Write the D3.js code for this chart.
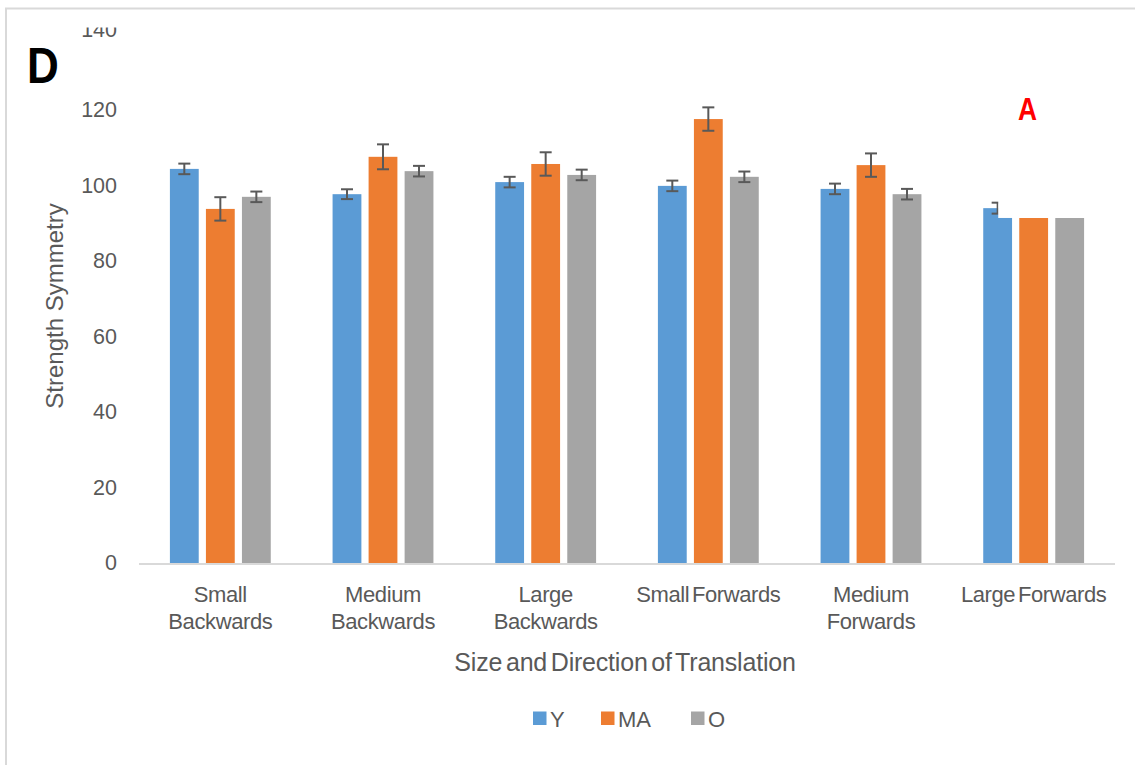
<!DOCTYPE html>
<html>
<head>
<meta charset="utf-8">
<script src="https://cdn.jsdelivr.net/npm/d3@7"></script>
<style>
  html, body { margin: 0; padding: 0; background: #fff; }
  svg { display: block; font-family: "Liberation Sans", Arial, sans-serif; }
</style>
</head>
<body>
<svg id="chart" width="1135" height="765"></svg>
<script>
// Category labels (line breaks with "\n")
const categories = [
  "Small\nBackwards",
  "Medium\nBackwards",
  "Large\nBackwards",
  "Small Forwards",
  "Medium\nForwards",
  "Large Forwards"
];
const seriesNames = ["Y", "MA", "O"];
const seriesColors = ["#5b9bd5", "#ed7d31", "#a5a5a5"];

// Mean strength symmetry per group
const valuesY  = [104.4, 97.7, 100.9, 99.9, 99.1, 94.0];
const valuesMA = [93.8, 107.6, 105.7, 117.6, 105.4, 91.4];
const valuesO  = [97.0, 103.8, 102.8, 102.3, 97.7, 91.4];

// Error bar half-widths (null = not shown)
const errY  = [1.4, 1.3, 1.4, 1.4, 1.4, 1.45];
const errMA = [3.1, 3.3, 3.1, 3.1, 3.1, null];
const errO  = [1.4, 1.4, 1.4, 1.4, 1.4, null];

const yTicks = [0, 20, 40, 60, 80, 100, 120, 140];

const svg = d3.select("#chart");
const textColor = "#595959";

// Outer frame (left and top edges)
svg.append("path")
  .attr("d", "M6,765 V8.5 H1135")
  .attr("fill", "none")
  .attr("stroke", "#d9d9d9")
  .attr("stroke-width", 2);

const plot = { left: 139, right: 1115, top: 34.5, bottom: 563 };

const x0 = d3.scaleBand()
  .domain(categories)
  .range([plot.left, plot.right])
  .paddingInner(0.38)
  .paddingOuter(0.19);

const x1 = d3.scaleBand()
  .domain(seriesNames)
  .range([0, x0.bandwidth()])
  .paddingInner(0.2);

const y = d3.scaleLinear().domain([0, 140]).range([plot.bottom, plot.top]);

const series = [
  { name: "Y", values: valuesY, errs: errY },
  { name: "MA", values: valuesMA, errs: errMA },
  { name: "O", values: valuesO, errs: errO }
];

// Y axis tick labels
const yAxis = d3.axisLeft(y).tickValues(yTicks).tickSize(0).tickPadding(22);
const yg = svg.append("g").attr("transform", `translate(${plot.left},0)`).call(yAxis);
yg.select(".domain").remove();
yg.selectAll("text")
  .attr("fill", textColor)
  .style("font-size", "21.5px")
  .style("font-family", "Liberation Sans, Arial, sans-serif");
// top label sits a little higher
yg.selectAll(".tick").filter(d => d === 140).select("text").attr("y", -5);

// Bars
series.forEach((s, si) => {
  const g = svg.append("g");
  g.selectAll("rect")
    .data(categories.map((c, i) => ({ c, v: s.values[i] })))
    .join("rect")
    .attr("x", d => x0(d.c) + x1(s.name))
    .attr("y", d => y(d.v))
    .attr("width", x1.bandwidth())
    .attr("height", d => y(0) - y(d.v))
    .attr("fill", seriesColors[si]);
});

// Error bars
series.forEach(s => {
  const g = svg.append("g").attr("stroke", "#595959").attr("stroke-width", 2).attr("fill", "none");
  categories.forEach((c, i) => {
    const e = s.errs[i];
    if (e == null) return;
    const cx = x0(c) + x1(s.name) + x1.bandwidth() / 2;
    const top = y(s.values[i] + e), bot = y(s.values[i] - e);
    g.append("line").attr("x1", cx).attr("x2", cx).attr("y1", top).attr("y2", bot);
    g.append("line").attr("x1", cx - 6).attr("x2", cx + 6).attr("y1", top).attr("y2", top);
    g.append("line").attr("x1", cx - 6).attr("x2", cx + 6).attr("y1", bot).attr("y2", bot);
  });
});

// Masking panel over the last group's upper region
{
  const c = categories[5];
  const left = x0(c) + x1("Y") + 15;
  svg.append("rect")
    .attr("x", left)
    .attr("y", y(99))
    .attr("width", x0(c) + x0.bandwidth() + 10 - left)
    .attr("height", y(valuesMA[5]) - y(99))
    .attr("fill", "#fff");
}

// Category axis line
svg.append("line")
  .attr("x1", plot.left).attr("x2", plot.right)
  .attr("y1", y(0) + 1).attr("y2", y(0) + 1)
  .attr("stroke", "#d9d9d9").attr("stroke-width", 2);

// Category labels
categories.forEach(c => {
  const lines = c.split("\n");
  const cx = x0(c) + x0.bandwidth() / 2;
  const t = svg.append("text")
    .attr("x", cx)
    .attr("y", 602)
    .attr("text-anchor", "middle")
    .attr("fill", textColor)
    .style("font-size", "22px")
    .style("letter-spacing", "-0.4px")
    .style("word-spacing", "-3px");
  lines.forEach((l, i) => {
    t.append("tspan").attr("x", cx).attr("dy", i === 0 ? 0 : 27).text(l);
  });
});

// Axis titles
svg.append("text")
  .attr("x", 625).attr("y", 671)
  .attr("text-anchor", "middle")
  .attr("fill", textColor)
  .style("font-size", "25px")
  .style("letter-spacing", "-0.2px")
  .style("word-spacing", "-3px")
  .text("Size and Direction of Translation");

svg.append("text")
  .attr("transform", "translate(63,306) rotate(-90)")
  .attr("text-anchor", "middle")
  .attr("fill", textColor)
  .style("font-size", "24px")
  .text("Strength Symmetry");

// Clip the top of the highest tick label
svg.append("rect").attr("x", 60).attr("y", 10).attr("width", 70).attr("height", 17.5).attr("fill", "#fff");

// Legend
const legendX = [533, 601, 691];
series.forEach((s, i) => {
  svg.append("rect")
    .attr("x", legendX[i]).attr("y", 711.5)
    .attr("width", 13.5).attr("height", 13.5)
    .attr("fill", seriesColors[i]);
  svg.append("text")
    .attr("x", legendX[i] + 17).attr("y", 726.5)
    .attr("fill", textColor)
    .style("font-size", "22px")
    .text(s.name);
});

// Panel letter and marker
svg.append("text")
  .attr("transform", "translate(27,83) scale(0.88,1)")
  .attr("fill", "#000")
  .style("font-size", "50px")
  .style("font-weight", "bold")
  .text("D");

svg.append("text")
  .attr("transform", "translate(1018,120) scale(0.85,1)")
  .attr("fill", "#ff0000")
  .style("font-size", "31px")
  .style("font-weight", "bold")
  .text("A");
</script>
</body>
</html>
